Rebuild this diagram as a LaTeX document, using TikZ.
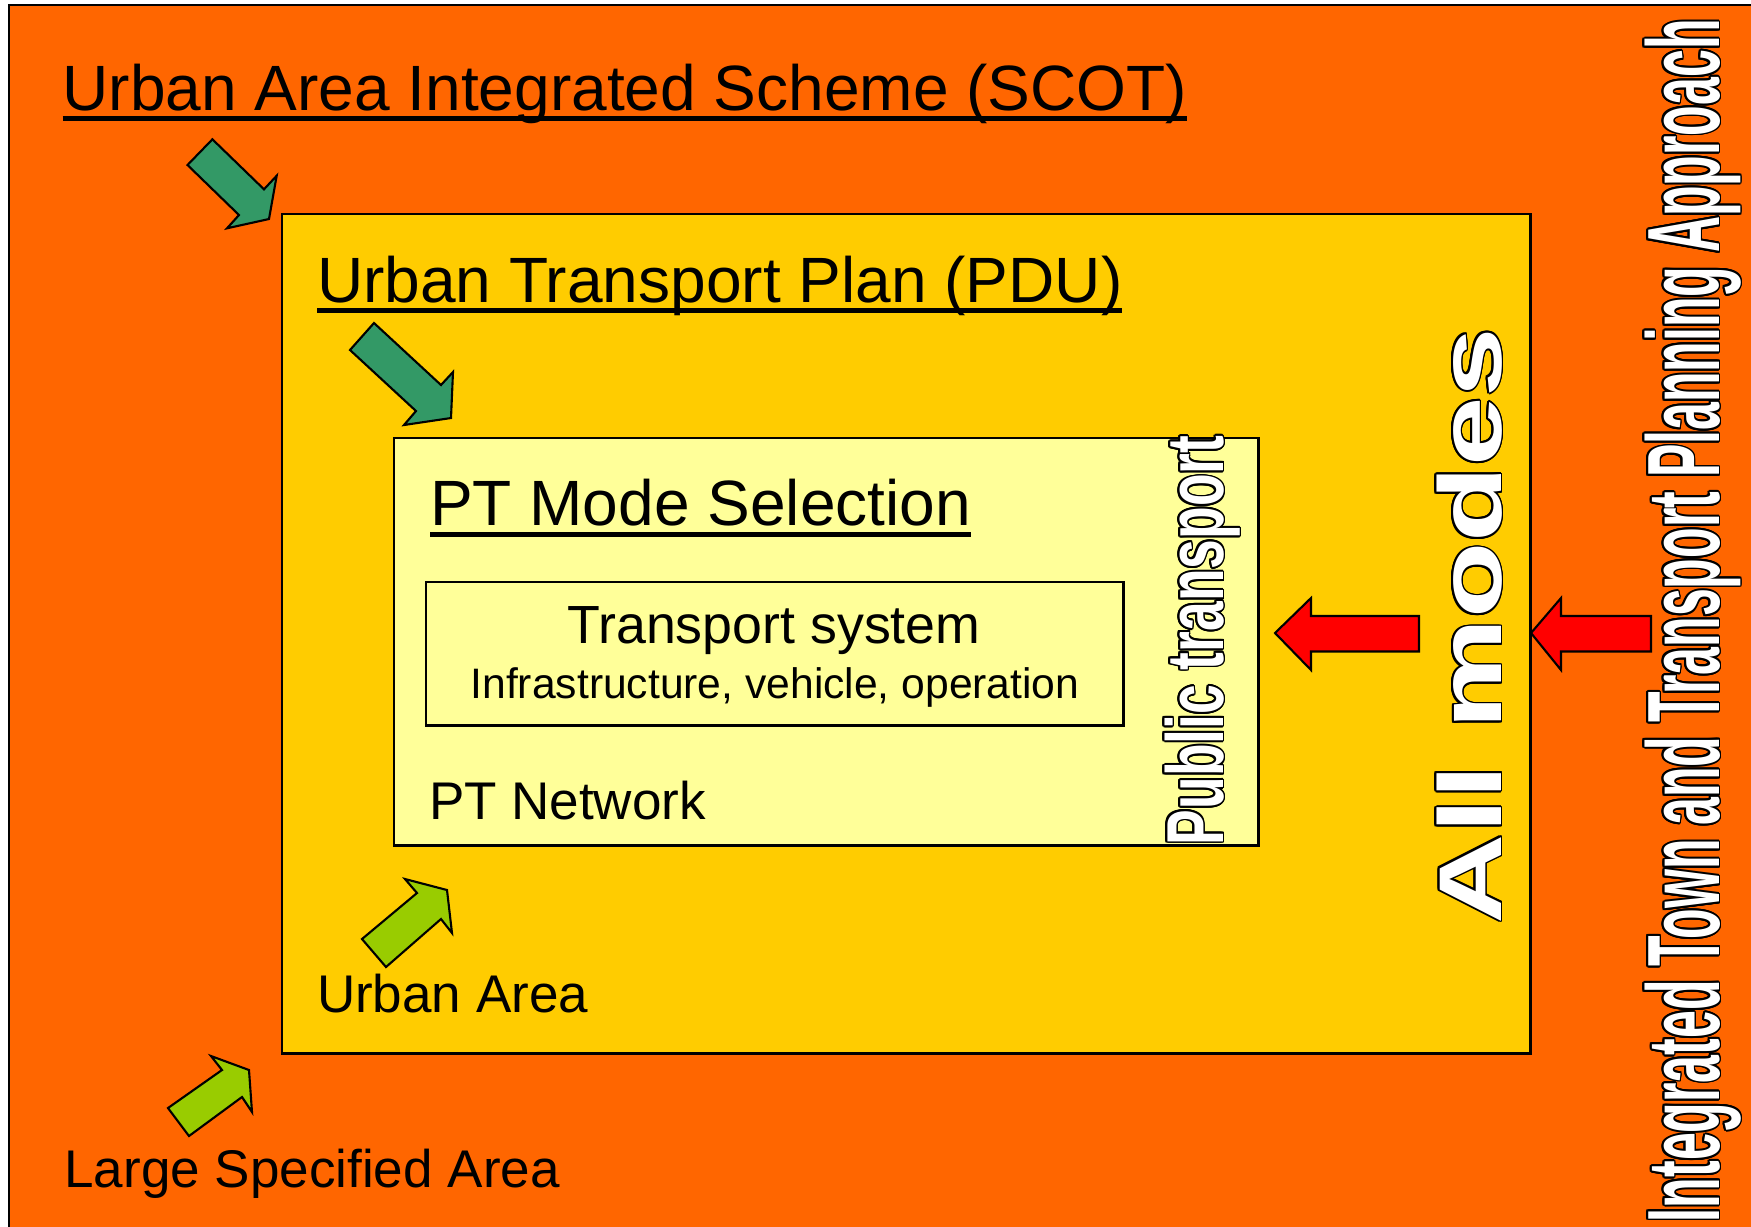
\documentclass[tikz,border=0pt]{standalone}
\usepackage{fontspec}
\setmainfont{Liberation Sans}
\usepackage{xcolor}
\usepackage{graphicx}
\usepackage{contour}
\usepackage{tikz}
\definecolor{scotorange}{HTML}{FF6600}
\definecolor{pduyellow}{HTML}{FFCC00}
\definecolor{ptyellow}{HTML}{FFFF99}
\definecolor{darkgreen}{HTML}{339966}
\definecolor{lightgreen}{HTML}{99CC00}
\definecolor{arrowred}{HTML}{FF0000}
\tikzstyle{areabox}=[rectangle, draw, anchor=north west, inner sep=0pt, outer sep=0pt]
\tikzstyle{bigtext}=[inner sep=0pt, outer sep=0pt, anchor=base west, font=\fontsize{0.64cm}{0.77cm}\selectfont]
\tikzstyle{midtext}=[inner sep=0pt, outer sep=0pt, font=\fontsize{0.53cm}{0.64cm}\selectfont]
\tikzstyle{smalltext}=[inner sep=0pt, outer sep=0pt, font=\fontsize{0.426cm}{0.51cm}\selectfont]
\tikzstyle{wordart}=[inner sep=0pt, outer sep=0pt, rotate=90, anchor=base west, text=white, font=\bfseries]
\tikzstyle{uline}=[line width=1.3pt]
\tikzstyle{blockarrow}=[draw, line width=0.6pt, line join=miter]
\contourlength{0.55pt}

\begin{document}
\begin{tikzpicture}[x=0.01cm, y=-0.01cm]

%  all lines
\tikzset{every path/.style={line width=0.8pt}}

\useasboundingbox[fill=white] (0,0) rectangle (1751,1226);

% Areas, outside in
\node[areabox, fill=scotorange, minimum width=17.6cm, minimum height=12.4cm] (scot) at (9,5) {};
\node[areabox, fill=pduyellow, minimum width=12.48cm, minimum height=8.39cm] (pdu) at (282,214) {};
\node[areabox, fill=ptyellow, minimum width=8.64cm, minimum height=4.07cm] (ptnet) at (394,438) {};
\node[areabox, minimum width=6.97cm, minimum height=1.43cm] (tsys) at (426,582) {};

% Titles (underlined)
\node[bigtext] (scottitle) at (62.5,110) {Urban Area Integrated Scheme (SCOT)};
\draw[uline] ([yshift=-0.085cm]scottitle.base west) -- ([yshift=-0.085cm]scottitle.base east);

\node[bigtext] (pdutitle) at (317,302) {Urban Transport Plan (PDU)};
\draw[uline] ([yshift=-0.085cm]pdutitle.base west) -- ([yshift=-0.085cm]pdutitle.base east);

\node[bigtext] (modetitle) at (430,525) {PT Mode Selection};
\draw[uline] ([yshift=-0.095cm]modetitle.base west) -- ([yshift=-0.095cm]modetitle.base east);

% Transport system box
\node[midtext, anchor=base, font=\fontsize{0.537cm}{0.64cm}\selectfont] (tsystitle) at (774,643.5) {Transport system};
\node[smalltext, anchor=base] (tsysparts) at (775,698.5) {Infrastructure, vehicle, operation};

% Area names
\node[midtext, anchor=base west] (ptnetname) at (429,819) {PT Network};
\node[midtext, anchor=base west] (urbanname) at (317,1012) {Urban Area};
\node[midtext, anchor=base west] (largename) at (64.5,1187) {Large Specified Area};

% Vertical labels
\node[wordart] (ptlabel) at (1223,845) {\contour{black}{\resizebox{4.09cm}{0.585cm}{Public transport}}};
\node[wordart] (modeslabel) at (1501,924) {\contour{black}{\resizebox{5.96cm}{0.645cm}{All modes}}};
\node[wordart] (itlabel) at (1719,1222) {\contour{black}{\resizebox{12.02cm}{0.745cm}{Integrated Town and Transport Planning Approach}}};

% Arrows into the areas
\draw[blockarrow, fill=darkgreen] (187.5,165) -- (212.4,139.3) -- (264,189.3) -- (276.7,175.7) -- (269,219) -- (227,228.3) -- (239,215) -- cycle;
\draw[blockarrow, fill=darkgreen] (350,350) -- (374,323) -- (441,385) -- (453,372) -- (451,418) -- (404,425) -- (416,411) -- cycle;

% Arrows out of the areas
\draw[blockarrow, fill=lightgreen] (362,939) -- (417,893) -- (405,879) -- (447,890) -- (452,933) -- (441,919) -- (386,967) -- cycle;
\draw[blockarrow, fill=lightgreen] (168,1108) -- (222,1070) -- (211,1056) -- (249,1070) -- (252,1112) -- (242,1097) -- (189,1136) -- cycle;

% Modes arrows
\draw[blockarrow, fill=arrowred] (1275,633) -- (1311,598) -- (1311,616) -- (1419,616) -- (1419,651.5) -- (1311,651.5) -- (1311,670) -- cycle;
\draw[blockarrow, fill=arrowred] (1531,633) -- (1561,598) -- (1561,616) -- (1651,616) -- (1651,651.5) -- (1561,651.5) -- (1561,670) -- cycle;

\end{tikzpicture}
\end{document}
